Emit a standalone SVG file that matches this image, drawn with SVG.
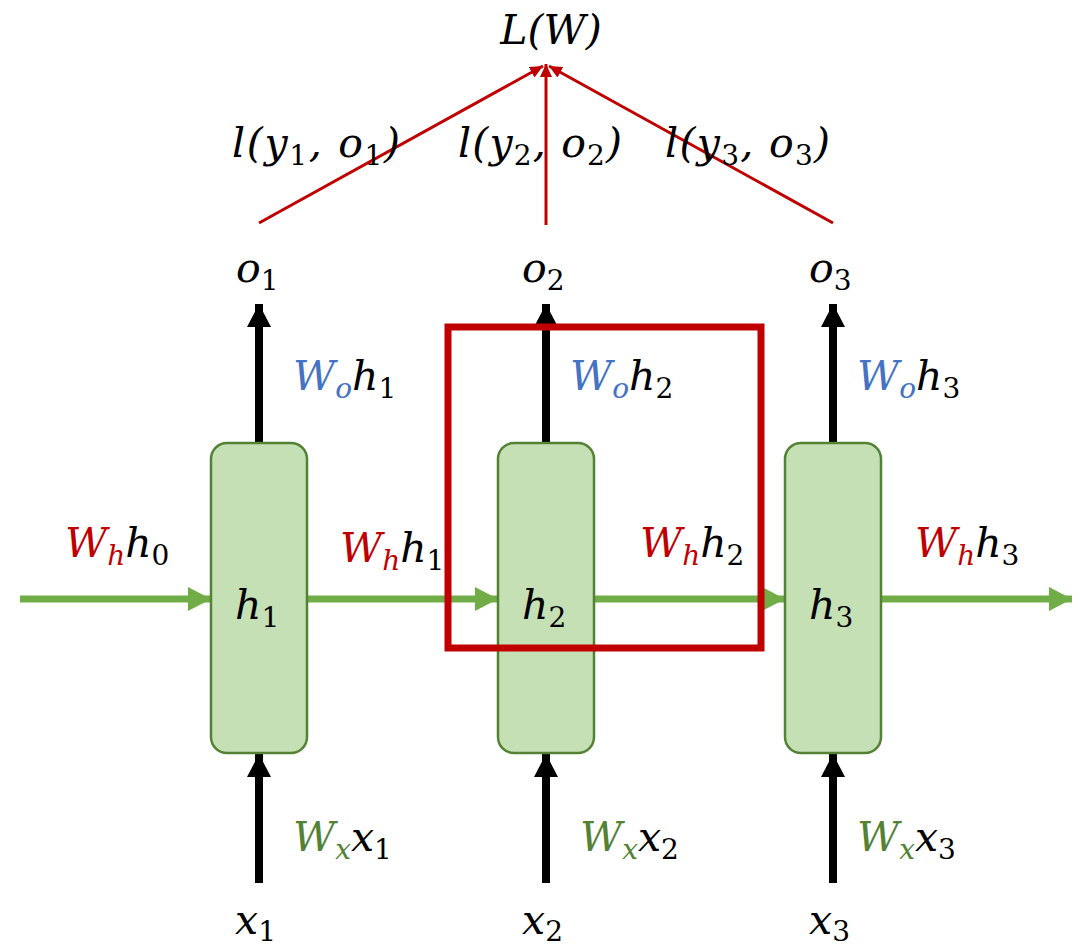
<svg xmlns="http://www.w3.org/2000/svg" width="1083" height="950" viewBox="0 0 1083 950">
<style>
.m{font-family:"DejaVu Serif","Liberation Serif",serif;font-style:italic;font-size:41px;fill:#000}
.s{font-size:28px}
.n{font-style:normal}
.r{fill:#C00000}.b{fill:#4472C4}.g{fill:#548235}
.box{fill:#C5E0B4;stroke:#548235;stroke-width:2.5}
.blk{stroke:#000;stroke-width:8;fill:none}
.grn{stroke:#70AD47;stroke-width:7;fill:none}
.red{stroke:#C00000;stroke-width:3;fill:none}
</style>
<defs>
<marker id="ab" markerUnits="userSpaceOnUse" markerWidth="24" markerHeight="24" refX="23" refY="12" orient="auto"><path d="M0,0 L23,12 L0,24 Z" fill="#000"/></marker>
<marker id="ag" markerUnits="userSpaceOnUse" markerWidth="24" markerHeight="26" refX="23" refY="13" orient="auto"><path d="M0,1 L23,13 L0,25 Z" fill="#70AD47"/></marker>
<marker id="ar" markerUnits="userSpaceOnUse" markerWidth="14" markerHeight="12" refX="13" refY="6" orient="auto"><path d="M0,0 L13,6 L0,12 Z" fill="#C00000"/></marker>
</defs>
<g id="connectors">
<line class="grn" x1="20" y1="599" x2="211" y2="599" marker-end="url(#ag)"/>
<line class="grn" x1="307" y1="599" x2="498" y2="599" marker-end="url(#ag)"/>
<line class="grn" x1="594" y1="599" x2="785" y2="599" marker-end="url(#ag)"/>
<line class="grn" x1="881" y1="599" x2="1072" y2="599" marker-end="url(#ag)"/>
<line class="blk" x1="259" y1="443" x2="259" y2="304" marker-end="url(#ab)"/>
<line class="blk" x1="546" y1="443" x2="546" y2="304" marker-end="url(#ab)"/>
<line class="blk" x1="833" y1="443" x2="833" y2="304" marker-end="url(#ab)"/>
<line class="blk" x1="259" y1="883" x2="259" y2="754" marker-end="url(#ab)"/>
<line class="blk" x1="546" y1="883" x2="546" y2="754" marker-end="url(#ab)"/>
<line class="blk" x1="833" y1="883" x2="833" y2="754" marker-end="url(#ab)"/>
<line class="red" x1="259" y1="223" x2="543" y2="66" marker-end="url(#ar)"/>
<line class="red" x1="546" y1="225" x2="546" y2="64" marker-end="url(#ar)"/>
<line class="red" x1="833" y1="223" x2="549" y2="66" marker-end="url(#ar)"/>
</g>
<g id="node-h1"><rect class="box" x="211" y="443" width="96" height="310" rx="16"/><text class="m" x="235" y="619">h<tspan class="s n" dy="8">1</tspan></text></g>
<g id="node-h2"><rect class="box" x="498" y="443" width="96" height="310" rx="16"/><text class="m" x="522" y="619">h<tspan class="s n" dy="8">2</tspan></text></g>
<g id="node-h3"><rect class="box" x="785" y="443" width="96" height="310" rx="16"/><text class="m" x="809" y="619">h<tspan class="s n" dy="8">3</tspan></text></g>
<g id="highlight"><rect x="448" y="327" width="313" height="321" fill="none" stroke="#C00000" stroke-width="7"/></g>
<g id="labels">
<text class="m" x="551" y="44" text-anchor="middle">L(W)</text>
<text class="m" x="232" y="157" textLength="168">l(y<tspan class="s n" dy="8">1</tspan><tspan dy="-8">, o</tspan><tspan class="s n" dy="8">1</tspan><tspan dy="-8">)</tspan></text>
<text class="m" x="458" y="157" textLength="164">l(y<tspan class="s n" dy="8">2</tspan><tspan dy="-8">, o</tspan><tspan class="s n" dy="8">2</tspan><tspan dy="-8">)</tspan></text>
<text class="m" x="665" y="157" textLength="165">l(y<tspan class="s n" dy="8">3</tspan><tspan dy="-8">, o</tspan><tspan class="s n" dy="8">3</tspan><tspan dy="-8">)</tspan></text>
<text class="m" x="236" y="282">o<tspan class="s n" dy="8">1</tspan></text>
<text class="m" x="522" y="282">o<tspan class="s n" dy="8">2</tspan></text>
<text class="m" x="809" y="282">o<tspan class="s n" dy="8">3</tspan></text>
<text class="m" x="293" y="390"><tspan class="b">W</tspan><tspan class="b s" dy="8">o</tspan><tspan dy="-8">h</tspan><tspan class="s n" dy="8">1</tspan></text>
<text class="m" x="570" y="390"><tspan class="b">W</tspan><tspan class="b s" dy="8">o</tspan><tspan dy="-8">h</tspan><tspan class="s n" dy="8">2</tspan></text>
<text class="m" x="857" y="390"><tspan class="b">W</tspan><tspan class="b s" dy="8">o</tspan><tspan dy="-8">h</tspan><tspan class="s n" dy="8">3</tspan></text>
<text class="m" x="65" y="557"><tspan class="r">W</tspan><tspan class="r s" dy="8">h</tspan><tspan dy="-8">h</tspan><tspan class="s n" dy="8">0</tspan></text>
<text class="m" x="340" y="562"><tspan class="r">W</tspan><tspan class="r s" dy="8">h</tspan><tspan dy="-8">h</tspan><tspan class="s n" dy="8">1</tspan></text>
<text class="m" x="640" y="557"><tspan class="r">W</tspan><tspan class="r s" dy="8">h</tspan><tspan dy="-8">h</tspan><tspan class="s n" dy="8">2</tspan></text>
<text class="m" x="915" y="557"><tspan class="r">W</tspan><tspan class="r s" dy="8">h</tspan><tspan dy="-8">h</tspan><tspan class="s n" dy="8">3</tspan></text>
<text class="m" x="293" y="851"><tspan class="g">W</tspan><tspan class="g s" dy="8">x</tspan><tspan dy="-8">x</tspan><tspan class="s n" dy="8">1</tspan></text>
<text class="m" x="580" y="851"><tspan class="g">W</tspan><tspan class="g s" dy="8">x</tspan><tspan dy="-8">x</tspan><tspan class="s n" dy="8">2</tspan></text>
<text class="m" x="857" y="851"><tspan class="g">W</tspan><tspan class="g s" dy="8">x</tspan><tspan dy="-8">x</tspan><tspan class="s n" dy="8">3</tspan></text>
<text class="m" x="235" y="934">x<tspan class="s n" dy="7">1</tspan></text>
<text class="m" x="522" y="934">x<tspan class="s n" dy="7">2</tspan></text>
<text class="m" x="809" y="934">x<tspan class="s n" dy="7">3</tspan></text>
</g>
</svg>
